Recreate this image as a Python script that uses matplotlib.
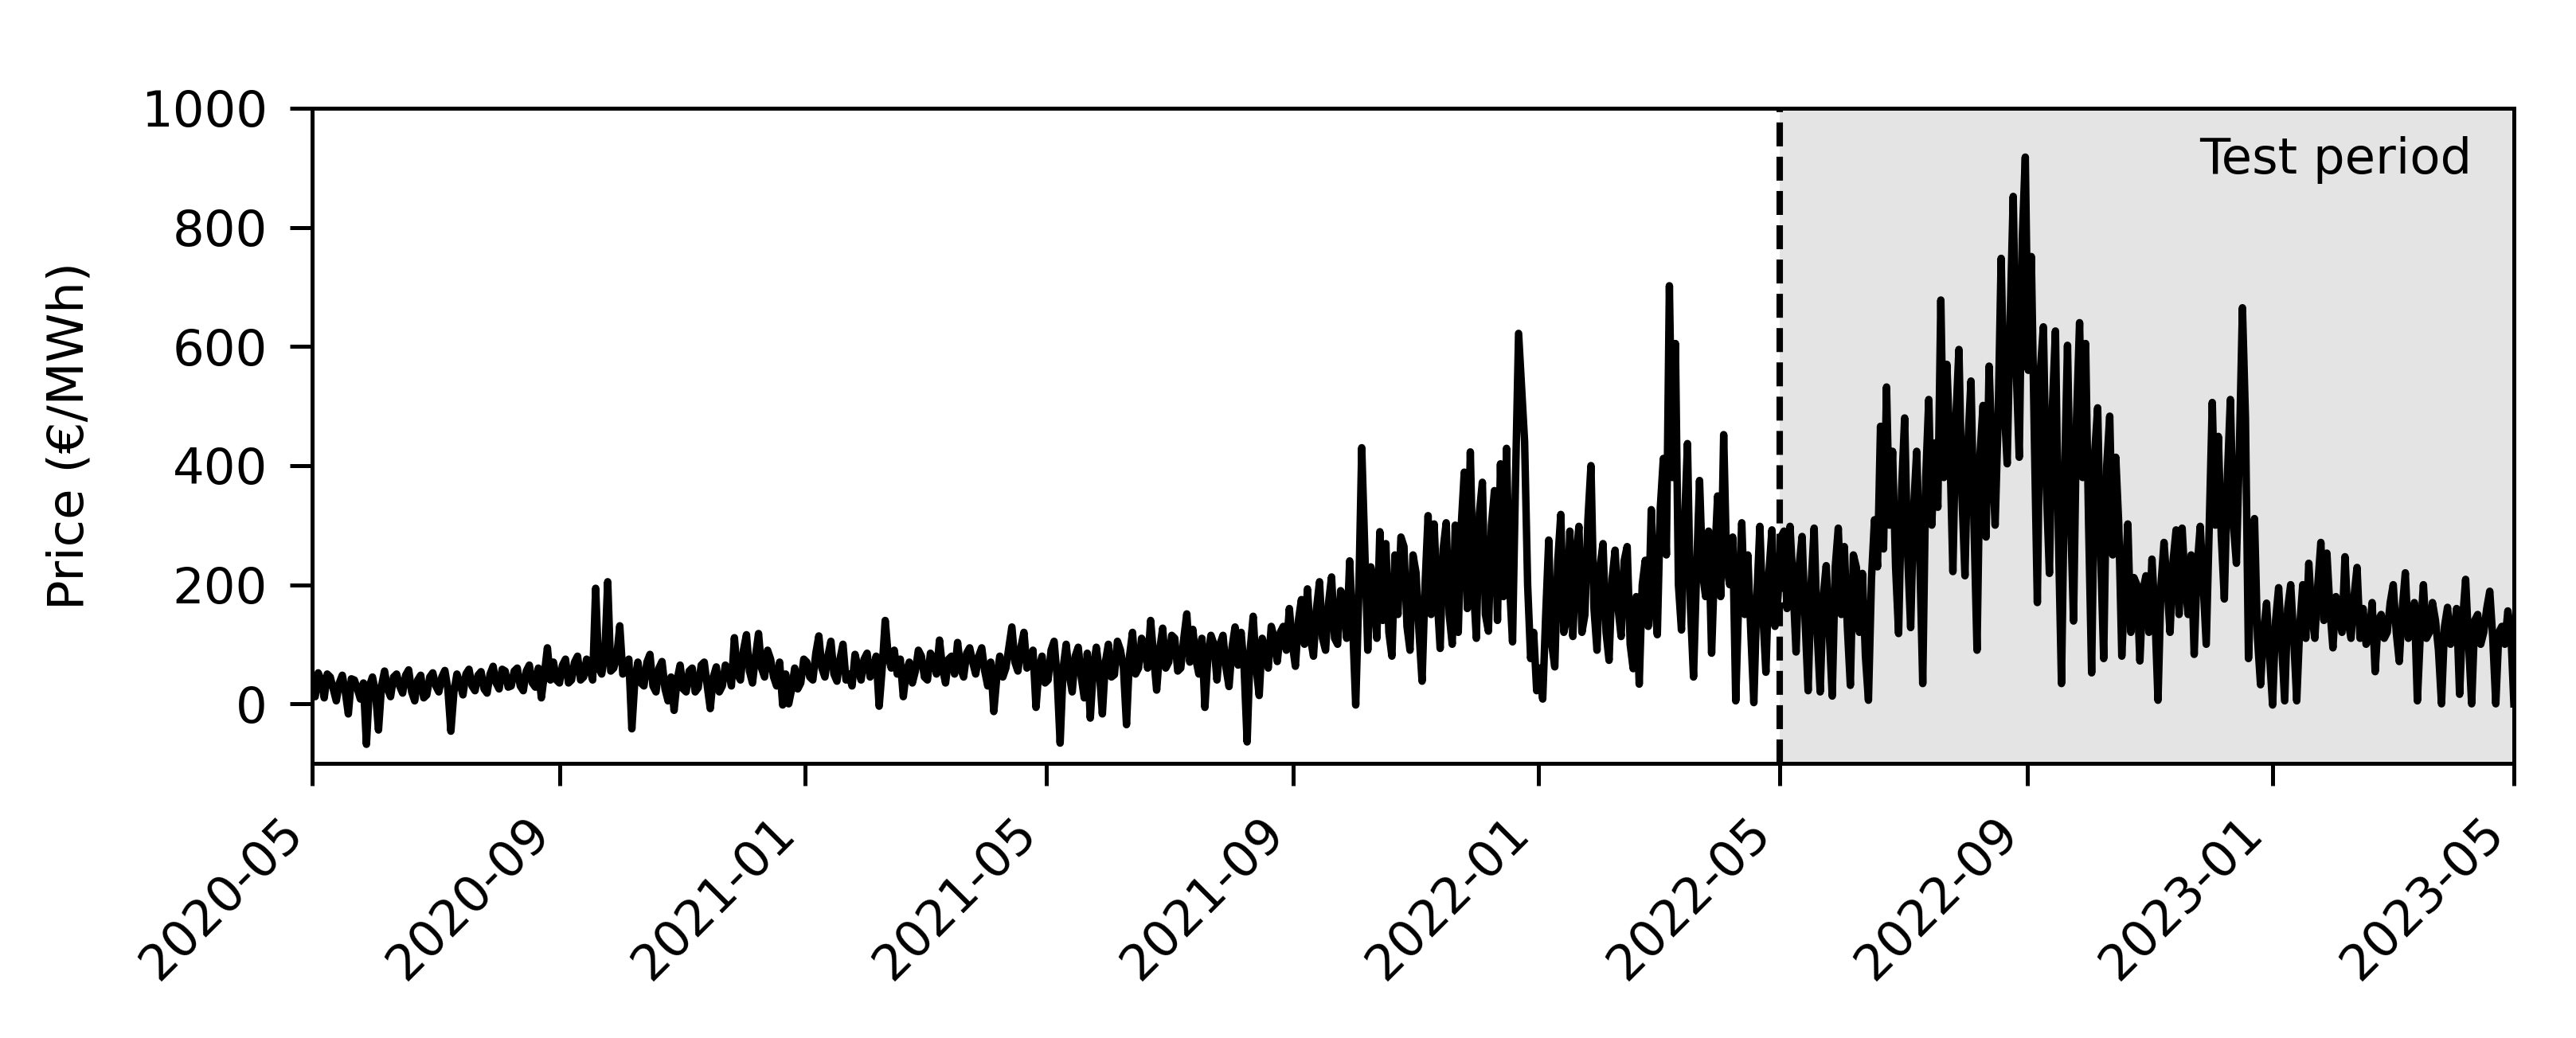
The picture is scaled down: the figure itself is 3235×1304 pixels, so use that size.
import numpy as np
import pandas as pd
import matplotlib
matplotlib.use("Agg")
import matplotlib.pyplot as plt
import matplotlib.dates as mdates

# Day-ahead price (EUR/MWh), every 3 days from 2020-05-01 to 2023-05-01
prices_2020 = [
    30, 52, 10, 45, 5, 48, -17, 40, 8, -68,
    45, -44, 55, 12, 50, 18, 57, 5, 48, 15,
    52, 20, 56, -46, 50, 15, 58, 22, 54, 18,
    63, 25, 55, 30, 60, 22, 65, 28, 10, 94,
    70, 35, 75, 40, 80, 45, 60, 194, 50, 205,
    60, 131, 55, -42, 70, 30, 83, 20, 71, 5,
    -11, 65, 20, 60, 27, 70, -8, 62, 30, 58,
    111, 40, 116, 35, 118, 45, 75, 30, -2, 0,
]
prices_2021 = [
    60, 35, 70, 40, 114, 45, 105, 38, 100, 50,
    83, 40, 85, 55, -4, 140, 60, 50, 12, 70,
    55, 80, 40, 75, 107, 35, 80, 103, 45, 94,
    50, 94, 30, -13, 80, 60, 129, 55, 120, 70,
    -6, 80, 40, 105, -66, 100, 20, 95, 10, -24,
    95, -17, 100, 49, 90, -35, 120, 60, 100, 140,
    23, 127, 70, 110, 60, 151, 125, 50, -6, 115,
    40, 115, 29, 129, 120, -64, 147, 14, 90, 130,
    71, 130, 160, 63, 175, 193, 80, 205, 90, 213,
    100, 180, 240, -2, 430, 90, 200, 289, 269, 80,
    150, 264, 90, 220, 38, 316, 302, 93, 304, 100,
    120, 389, 423, 110, 372, 122, 358, 403, 429, 104,
]
prices_2022 = [
    622, 440, 76, 22, 8, 275, 62, 318, 144, 113,
    298, 150, 400, 90, 269, 73, 258, 113, 264, 59,
    33, 241, 326, 116, 412, 702, 605, 124, 437, 45,
    375, 180, 85, 349, 452, 200, 5, 304, 250, 2,
    298, 53, 292, 180, 290, 298, 87, 281, 22, 295,
    20, 232, 13, 295, 264, 31, 229, 219, 6, 309,
    466, 532, 424, 118, 480, 128, 424, 34, 511, 438,
    678, 570, 222, 595, 215, 542, 90, 501, 567, 300,
    748, 403, 852, 414, 918, 751, 170, 633, 219, 626,
    34, 602, 139, 640, 605, 52, 497, 76, 483, 414,
    80, 302, 212, 72, 215, 243, 6, 271, 120, 292,
    295, 150, 83, 298, 100, 506, 449, 176, 511, 236,
]
prices_2023 = [
    665, 76, 311, 32, 169, -2, 195, 5, 200, 5,
    200, 236, 110, 271, 253, 94, 150, 247, 110, 229,
    160, 110, 54, 150, 120, 200, 71, 220, 130, 5,
    200, 120, 140, 0, 162, 110, 16, 209, 0, 150,
    120, 189, 0, 130, 156, 0,
]

# In-between readings (1.5 days after each value above)
mid_2020 = [
    12, 40, 50, 25, 35, 20, 42, 25, 35, 30,
    20, 30, 25, 45, 30, 48, 20, 40, 10, 45,
    30, 45, 25, 20, 35, 50, 30, 48, 25, 50,
    35, 58, 28, 55, 30, 55, 35, 60, 50, 40,
    40, 65, 35, 70, 40, 75, 40, 60, 80, 55,
    80, 50, 75, 40, 35, 70, 30, 60, 25, 45,
    40, 25, 55, 20, 65, 30, 45, 20, 65, 30,
    50, 90, 55, 80, 60, 90, 45, 70, 50, 25,
]
mid_2021 = [
    25, 75, 45, 85, 60, 80, 50, 75, 40, 30,
    60, 75, 45, 80, 60, 80, 90, 75, 55, 35,
    90, 45, 85, 50, 60, 75, 50, 60, 85, 70,
    80, 55, 70, 45, 45, 95, 70, 95, 60, 90,
    60, 35, 90, 45, 60, 50, 80, 45, 85, 60,
    55, 70, 45, 105, 60, 80, 50, 110, 60, 80,
    90, 60, 115, 55, 110, 70, 75, 110, 80, 100,
    100, 60, 95, 65, 60, 90, 60, 110, 60, 110,
    120, 90, 100, 140, 100, 110, 160, 110, 170, 110,
    190, 110, 130, 180, 260, 230, 110, 140, 120, 250,
    280, 130, 250, 120, 200, 150, 180, 260, 150, 300,
    300, 160, 200, 320, 150, 300, 140, 180, 200, 380,
]
mid_2022 = [
    530, 200, 120, 60, 150, 100, 240, 120, 290, 240,
    120, 310, 160, 230, 120, 210, 160, 240, 100, 180,
    200, 130, 180, 330, 250, 380, 200, 300, 160, 220,
    220, 290, 240, 180, 230, 280, 180, 150, 120, 180,
    150, 220, 130, 280, 160, 200, 230, 140, 200, 120,
    180, 120, 230, 150, 130, 250, 120, 80, 210, 230,
    260, 300, 230, 360, 250, 330, 250, 380, 300, 330,
    380, 430, 480, 350, 440, 300, 420, 280, 420, 480,
    500, 650, 560, 780, 560, 450, 560, 360, 500, 280,
    380, 320, 480, 380, 300, 420, 250, 400, 250, 300,
    200, 120, 200, 190, 120, 150, 200, 200, 240, 150,
    200, 250, 230, 200, 300, 300, 280, 380, 300, 430,
]
mid_2023 = [
    480, 220, 110, 120, 80, 140, 100, 160, 110, 130,
    110, 150, 200, 140, 160, 180, 120, 140, 180, 110,
    100, 170, 140, 110, 170, 120, 160, 110, 170, 120,
    110, 170, 90, 130, 100, 160, 140, 100, 140, 100,
    160, 110, 120, 100, 120,
]

start_date = "2020-05-01"
test_start = "2022-05-01"
end_date = "2023-05-01"
yticks = [0, 200, 400, 600, 800, 1000]

main_vals = np.array(prices_2020 + prices_2021 + prices_2022 + prices_2023, dtype=float)
mid_vals = np.array(mid_2020 + mid_2021 + mid_2022 + mid_2023, dtype=float)
series = np.empty(len(main_vals) + len(mid_vals))
series[0::2] = main_vals
series[1::2] = mid_vals
dates = pd.date_range(start_date, periods=len(series), freq="36h")

fig = plt.figure(figsize=(3235 / 450, 1304 / 450), dpi=450)
ax = fig.add_axes([392 / 3235, 1 - 959 / 1304, (3157 - 392) / 3235, (959 - 136) / 1304])

ax.axvspan(pd.Timestamp(test_start), pd.Timestamp(end_date), color="#e4e4e4", zorder=0, lw=0)
ax.plot(dates, series, color="black", lw=1.5, zorder=2)
ax.axvline(pd.Timestamp(test_start), color="black", ls="--", lw=1.3, zorder=3)

ax.set_xlim(pd.Timestamp(start_date), pd.Timestamp(end_date))
ax.set_ylim(-100, 1000)
ax.set_yticks(yticks)
ax.xaxis.set_major_locator(mdates.MonthLocator(bymonth=[1, 5, 9]))
ax.xaxis.set_major_formatter(mdates.DateFormatter("%Y-%m"))
plt.setp(ax.get_xticklabels(), rotation=45, ha="right")
ax.tick_params(labelsize=10, length=4.5, pad=4.5)
ax.set_ylabel("Price (€/MWh)", fontsize=10, labelpad=9.5)
ax.text(0.981, 0.957, "Test period", transform=ax.transAxes, ha="right", va="top", fontsize=10)

fig.savefig("out.png", dpi=450)
